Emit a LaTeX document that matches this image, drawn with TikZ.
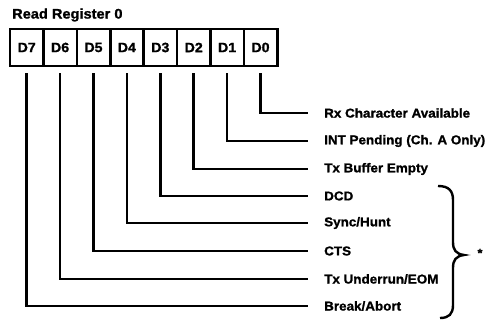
\documentclass[tikz,border=0pt]{standalone}
\usepackage{fontspec}
\setmainfont{Liberation Sans}
\newfontfamily\lbl{Liberation Sans}[FakeStretch=1.05,FakeBold=1.2]
\begin{document}
\begin{tikzpicture}[x=1pt,y=-1pt,
  cell/.style={draw,line width=2.6pt,minimum width=33.4pt,minimum height=37pt,inner sep=0pt,font=\lbl\bfseries\fontsize{13.5}{15}\selectfont},
  lab/.style={anchor=west,inner sep=0pt,font=\lbl\bfseries\fontsize{12.8}{14}\selectfont},
  wire/.style={line width=2.6pt,shorten >=16pt}]
\useasboundingbox (0,0) rectangle (488,323);
\node[lab,font=\lbl\bfseries\fontsize{13.9}{15}\selectfont] (title) at (12,15) {Read Register 0};
\foreach \i [count=\k from 0] in {7,6,5,4,3,2,1,0}{
  \node[cell] (c\i) at (10+16.7+33.4*\k,47.5) {D\i};
}
\node[lab] (l0) at (324,113) {Rx Character Available};
\node[lab] (l1) at (324,141) {INT Pending (Ch. A Only)};
\node[lab] (l2) at (324,169) {Tx Buffer Empty};
\node[lab] (l3) at (324,196) {DCD};
\node[lab] (l4) at (324,223) {Sync/Hunt};
\node[lab] (l5) at (324,251) {CTS};
\node[lab] (l6) at (324,279) {Tx Underrun/EOM};
\node[lab] (l7) at (324,306) {Break/Abort};
\foreach \i in {0,...,7}{
  \draw[wire] ([yshift=-6pt]c\i.south) |- (l\i.west);
}
\draw[line width=2.4pt] (438,186) .. controls (449,186) and (453,191) .. (453,200) -- (453,242)
  .. controls (453,250) and (456,254) .. (464,255)
  .. controls (456,256) and (453,260) .. (453,268) -- (453,305)
  .. controls (453,314) and (449,318) .. (440,318);
\node[font=\lbl\bfseries\fontsize{12}{13}\selectfont] (star) at (480,253) {*};
\end{tikzpicture}
\end{document}
